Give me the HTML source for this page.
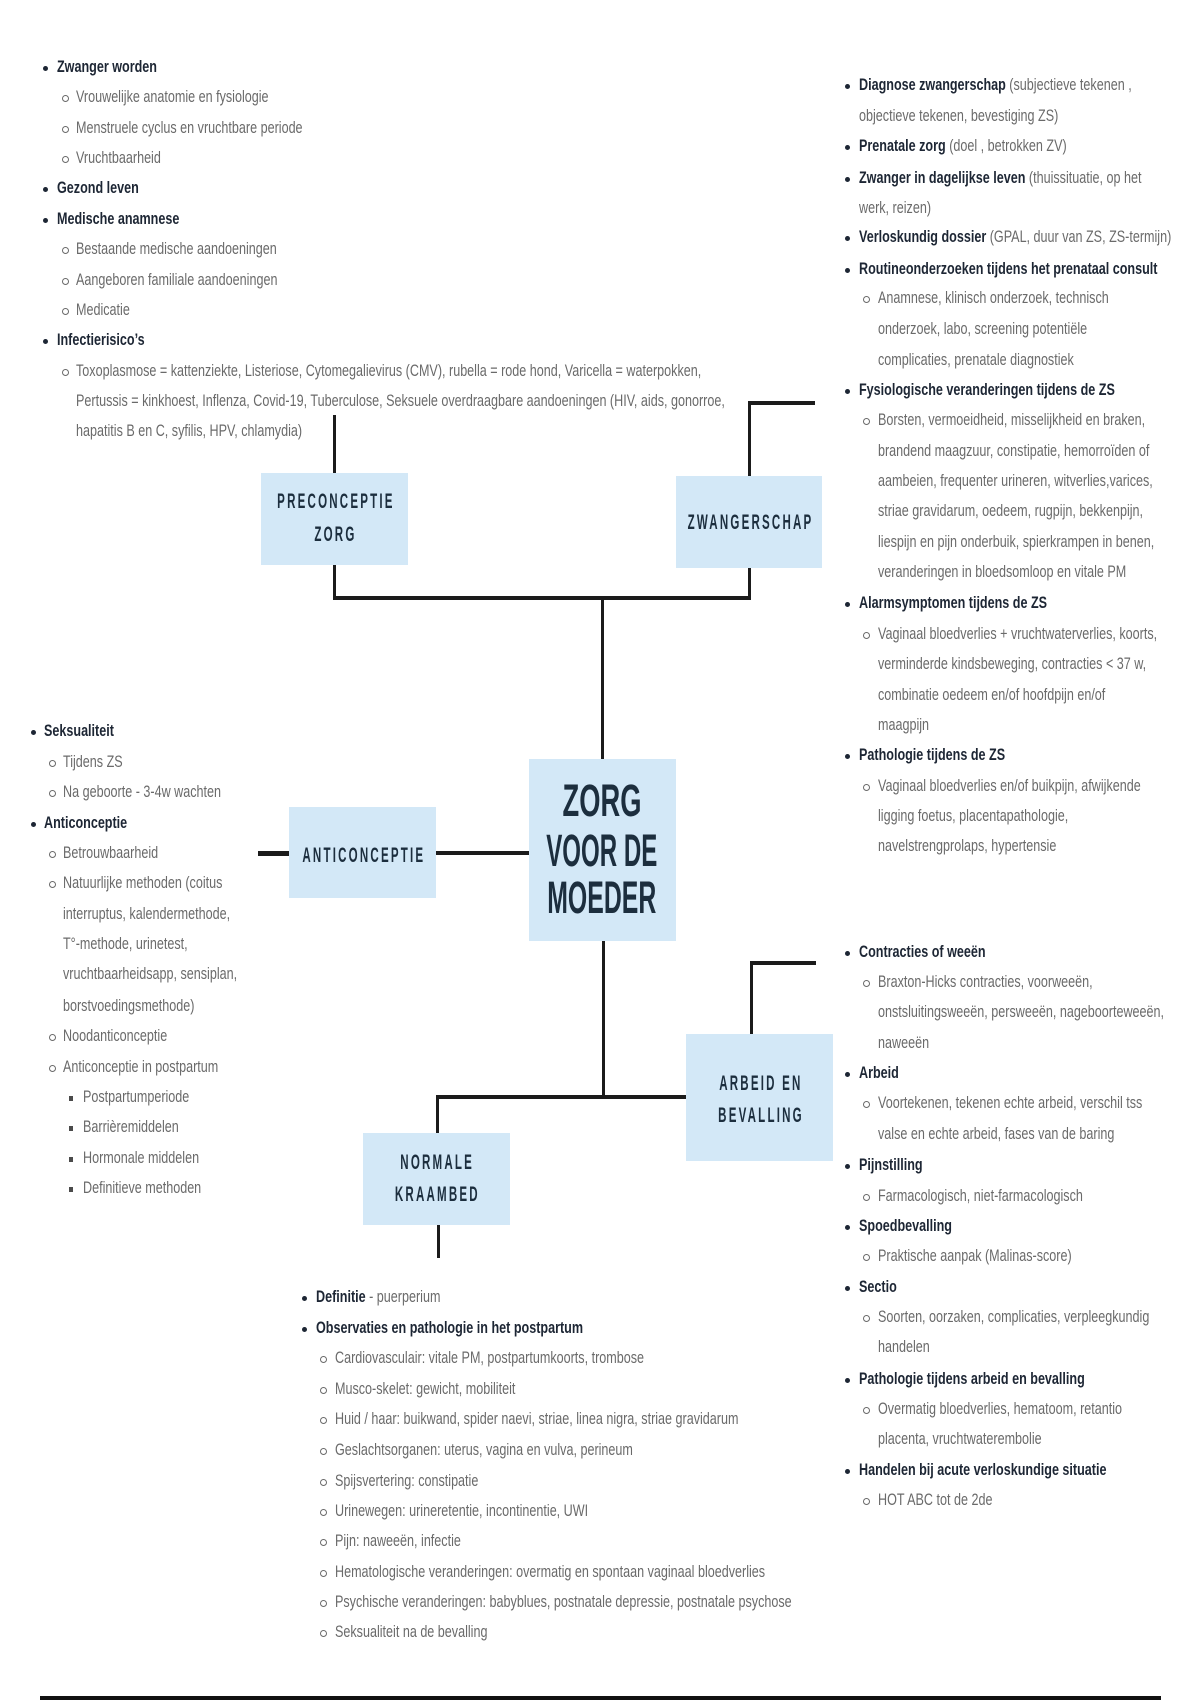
<!DOCTYPE html>
<html><head><meta charset="utf-8">
<style>
html,body{margin:0;padding:0;background:#fff;}
body{width:1200px;height:1700px;position:relative;overflow:hidden;font-family:"Liberation Sans",sans-serif;}
.l{position:absolute;white-space:nowrap;font:17px/30px "Liberation Sans",sans-serif;color:#6a6a6a;transform:scaleX(.74);transform-origin:0 0;}
.l b{color:#1d2634;font-weight:bold;}
.d1{position:absolute;width:5px;height:5px;border-radius:50%;background:#1d2634;}
.d2{position:absolute;width:7px;height:7px;border-radius:50%;border:1.6px solid #6a6a6a;box-sizing:border-box;}
.d3{position:absolute;width:4px;height:5px;background:#4a4a4a;}
.box{position:absolute;background:#d3e8f7;}
.bl{position:absolute;width:300px;text-align:center;font:bold 21px/30px "Liberation Sans",sans-serif;color:#1c2e3e;letter-spacing:4px;white-space:nowrap;}
.bl span{display:inline-block;transform:scaleX(.55);padding-left:4px;}
.ct{position:absolute;left:452px;width:300px;text-align:center;font:bold 45px/50px "Liberation Sans",sans-serif;color:#1c2e3e;white-space:nowrap;}
.ct span{display:inline-block;}
.k{position:absolute;background:#1b1b1b;}
</style></head><body>

<!-- connectors -->
<div class="k" style="left:332.5px;top:415px;width:3px;height:58px"></div>
<div class="k" style="left:332.5px;top:565px;width:3px;height:33px"></div>
<div class="k" style="left:332.5px;top:596px;width:418px;height:4px"></div>
<div class="k" style="left:747.5px;top:567px;width:3px;height:31px"></div>
<div class="k" style="left:747.5px;top:401px;width:3px;height:75px"></div>
<div class="k" style="left:747.5px;top:401px;width:67px;height:4px"></div>
<div class="k" style="left:600.5px;top:598px;width:3px;height:161px"></div>
<div class="k" style="left:258px;top:851px;width:31px;height:5px"></div>
<div class="k" style="left:436px;top:851px;width:93px;height:4px"></div>
<div class="k" style="left:601.5px;top:941px;width:3px;height:156px"></div>
<div class="k" style="left:435.5px;top:1095px;width:251px;height:4px"></div>
<div class="k" style="left:435.5px;top:1097px;width:3px;height:36px"></div>
<div class="k" style="left:436.5px;top:1225px;width:3px;height:33px"></div>
<div class="k" style="left:749.5px;top:961px;width:3px;height:73px"></div>
<div class="k" style="left:749.5px;top:961px;width:66px;height:4px"></div>
<div class="k" style="left:40px;top:1696px;width:1121px;height:4px;background:#111"></div>

<!-- boxes -->
<div class="box" style="left:261px;top:473px;width:147px;height:92px"></div>
<div class="box" style="left:676px;top:476px;width:146px;height:92px"></div>
<div class="box" style="left:529px;top:759px;width:147px;height:182px"></div>
<div class="box" style="left:289px;top:807px;width:147px;height:91px"></div>
<div class="box" style="left:686px;top:1034px;width:147px;height:127px"></div>
<div class="box" style="left:363px;top:1133px;width:147px;height:92px"></div>

<div class="bl" style="left:184.5px;top:486.5px"><span>PRECONCEPTIE</span></div>
<div class="bl" style="left:184.5px;top:519.5px"><span>ZORG</span></div>
<div class="bl" style="left:599px;top:507.5px"><span>ZWANGERSCHAP</span></div>
<div class="bl" style="left:212.5px;top:840.5px"><span>ANTICONCEPTIE</span></div>
<div class="bl" style="left:609.5px;top:1068.5px"><span>ARBEID EN</span></div>
<div class="bl" style="left:609.5px;top:1100.5px"><span>BEVALLING</span></div>
<div class="bl" style="left:286.5px;top:1147.5px"><span>NORMALE</span></div>
<div class="bl" style="left:286.5px;top:1179.5px"><span>KRAAMBED</span></div>

<div class="ct" style="top:776px"><span style="transform:scaleX(.607)">ZORG</span></div>
<div class="ct" style="top:826px"><span style="transform:scaleX(.535)">VOOR DE</span></div>
<div class="ct" style="top:873px"><span style="transform:scaleX(.552)">MOEDER</span></div>

<!-- top-left block -->
<div class="d1" style="left:42.5px;top:65.5px"></div><div class="l" style="left:57px;top:51.5px"><b>Zwanger worden</b></div>
<div class="d2" style="left:61.5px;top:95px"></div><div class="l" style="left:76px;top:82px">Vrouwelijke anatomie en fysiologie</div>
<div class="d2" style="left:61.5px;top:125.5px"></div><div class="l" style="left:76px;top:112.5px">Menstruele cyclus en vruchtbare periode</div>
<div class="d2" style="left:61.5px;top:155.5px"></div><div class="l" style="left:76px;top:142.5px">Vruchtbaarheid</div>
<div class="d1" style="left:42.5px;top:186.5px"></div><div class="l" style="left:57px;top:172.5px"><b>Gezond leven</b></div>
<div class="d1" style="left:42.5px;top:217.5px"></div><div class="l" style="left:57px;top:203.5px"><b>Medische anamnese</b></div>
<div class="d2" style="left:61.5px;top:246.5px"></div><div class="l" style="left:76px;top:233.5px">Bestaande medische aandoeningen</div>
<div class="d2" style="left:61.5px;top:277.5px"></div><div class="l" style="left:76px;top:264.5px">Aangeboren familiale aandoeningen</div>
<div class="d2" style="left:61.5px;top:307.5px"></div><div class="l" style="left:76px;top:294.5px">Medicatie</div>
<div class="d1" style="left:42.5px;top:338.5px"></div><div class="l" style="left:57px;top:324.5px"><b>Infectierisico’s</b></div>
<div class="d2" style="left:61.5px;top:368.5px"></div><div class="l" style="left:76px;top:355.5px">Toxoplasmose = kattenziekte, Listeriose, Cytomegalievirus (CMV), rubella = rode hond, Varicella = waterpokken,</div>
<div class="l" style="left:76px;top:385.5px">Pertussis = kinkhoest, Inflenza, Covid-19, Tuberculose, Seksuele overdraagbare aandoeningen (HIV, aids, gonorroe,</div>
<div class="l" style="left:76px;top:415.5px">hapatitis B en C, syfilis, HPV, chlamydia)</div>

<!-- top-right block -->
<div class="d1" style="left:844.5px;top:84px"></div><div class="l" style="left:859px;top:70px"><b>Diagnose zwangerschap</b> (subjectieve tekenen ,</div>
<div class="l" style="left:859px;top:100.5px">objectieve tekenen, bevestiging ZS)</div>
<div class="d1" style="left:844.5px;top:144.5px"></div><div class="l" style="left:859px;top:130.5px"><b>Prenatale zorg</b> (doel , betrokken ZV)</div>
<div class="d1" style="left:844.5px;top:176.5px"></div><div class="l" style="left:859px;top:162.5px"><b>Zwanger in dagelijkse leven</b> (thuissituatie, op het</div>
<div class="l" style="left:859px;top:192.5px">werk, reizen)</div>
<div class="d1" style="left:844.5px;top:236px"></div><div class="l" style="left:859px;top:222px"><b>Verloskundig dossier</b> (GPAL, duur van ZS, ZS-termijn)</div>
<div class="d1" style="left:844.5px;top:267.5px"></div><div class="l" style="left:859px;top:253.5px"><b>Routineonderzoeken tijdens het prenataal consult</b></div>
<div class="d2" style="left:862.5px;top:295.5px"></div><div class="l" style="left:878px;top:282.5px">Anamnese, klinisch onderzoek, technisch</div>
<div class="l" style="left:878px;top:314px">onderzoek, labo, screening potentiële</div>
<div class="l" style="left:878px;top:344.5px">complicaties, prenatale diagnostiek</div>
<div class="d1" style="left:844.5px;top:388.5px"></div><div class="l" style="left:859px;top:374.5px"><b>Fysiologische veranderingen tijdens de ZS</b></div>
<div class="d2" style="left:862.5px;top:418px"></div><div class="l" style="left:878px;top:405px">Borsten, vermoeidheid, misselijkheid en braken,</div>
<div class="l" style="left:878px;top:435.5px">brandend maagzuur, constipatie, hemorroïden of</div>
<div class="l" style="left:878px;top:465.5px">aambeien, frequenter urineren, witverlies,varices,</div>
<div class="l" style="left:878px;top:496px">striae gravidarum, oedeem, rugpijn, bekkenpijn,</div>
<div class="l" style="left:878px;top:526.5px">liespijn en pijn onderbuik, spierkrampen in benen,</div>
<div class="l" style="left:878px;top:556.5px">veranderingen in bloedsomloop en vitale PM</div>
<div class="d1" style="left:844.5px;top:601.5px"></div><div class="l" style="left:859px;top:587.5px"><b>Alarmsymptomen tijdens de ZS</b></div>
<div class="d2" style="left:862.5px;top:631.5px"></div><div class="l" style="left:878px;top:618.5px">Vaginaal bloedverlies + vruchtwaterverlies, koorts,</div>
<div class="l" style="left:878px;top:649px">verminderde kindsbeweging, contracties &lt; 37 w,</div>
<div class="l" style="left:878px;top:679.5px">combinatie oedeem en/of hoofdpijn en/of</div>
<div class="l" style="left:878px;top:709.5px">maagpijn</div>
<div class="d1" style="left:844.5px;top:754px"></div><div class="l" style="left:859px;top:740px"><b>Pathologie tijdens de ZS</b></div>
<div class="d2" style="left:862.5px;top:783.5px"></div><div class="l" style="left:878px;top:770.5px">Vaginaal bloedverlies en/of buikpijn, afwijkende</div>
<div class="l" style="left:878px;top:800.5px">ligging foetus, placentapathologie,</div>
<div class="l" style="left:878px;top:831px">navelstrengprolaps, hypertensie</div>

<!-- left block -->
<div class="d1" style="left:30.5px;top:730px"></div><div class="l" style="left:44px;top:716px"><b>Seksualiteit</b></div>
<div class="d2" style="left:48.5px;top:759.5px"></div><div class="l" style="left:63px;top:746.5px">Tijdens ZS</div>
<div class="d2" style="left:48.5px;top:789.5px"></div><div class="l" style="left:63px;top:776.5px">Na geboorte - 3-4w wachten</div>
<div class="d1" style="left:30.5px;top:821.5px"></div><div class="l" style="left:44px;top:807.5px"><b>Anticonceptie</b></div>
<div class="d2" style="left:48.5px;top:850.5px"></div><div class="l" style="left:63px;top:837.5px">Betrouwbaarheid</div>
<div class="d2" style="left:48.5px;top:881px"></div><div class="l" style="left:63px;top:868px">Natuurlijke methoden (coitus</div>
<div class="l" style="left:63px;top:898.5px">interruptus, kalendermethode,</div>
<div class="l" style="left:63px;top:928.5px">T°-methode, urinetest,</div>
<div class="l" style="left:63px;top:959px">vruchtbaarheidsapp, sensiplan,</div>
<div class="l" style="left:63px;top:990.5px">borstvoedingsmethode)</div>
<div class="d2" style="left:48.5px;top:1033.5px"></div><div class="l" style="left:63px;top:1020.5px">Noodanticonceptie</div>
<div class="d2" style="left:48.5px;top:1064.5px"></div><div class="l" style="left:63px;top:1051.5px">Anticonceptie in postpartum</div>
<div class="d3" style="left:69px;top:1095.5px"></div><div class="l" style="left:83px;top:1081.5px">Postpartumperiode</div>
<div class="d3" style="left:69px;top:1125.5px"></div><div class="l" style="left:83px;top:1111.5px">Barrièremiddelen</div>
<div class="d3" style="left:69px;top:1156.5px"></div><div class="l" style="left:83px;top:1142.5px">Hormonale middelen</div>
<div class="d3" style="left:69px;top:1186.5px"></div><div class="l" style="left:83px;top:1172.5px">Definitieve methoden</div>

<!-- bottom block -->
<div class="d1" style="left:301.5px;top:1296px"></div><div class="l" style="left:316px;top:1282px"><b>Definitie</b> - puerperium</div>
<div class="d1" style="left:301.5px;top:1326.5px"></div><div class="l" style="left:316px;top:1312.5px"><b>Observaties en pathologie in het postpartum</b></div>
<div class="d2" style="left:319.5px;top:1355.5px"></div><div class="l" style="left:335px;top:1342.5px">Cardiovasculair: vitale PM, postpartumkoorts, trombose</div>
<div class="d2" style="left:319.5px;top:1386.5px"></div><div class="l" style="left:335px;top:1373.5px">Musco-skelet: gewicht, mobiliteit</div>
<div class="d2" style="left:319.5px;top:1416.5px"></div><div class="l" style="left:335px;top:1403.5px">Huid / haar: buikwand, spider naevi, striae, linea nigra, striae gravidarum</div>
<div class="d2" style="left:319.5px;top:1447.5px"></div><div class="l" style="left:335px;top:1434.5px">Geslachtsorganen: uterus, vagina en vulva, perineum</div>
<div class="d2" style="left:319.5px;top:1478.5px"></div><div class="l" style="left:335px;top:1465.5px">Spijsvertering: constipatie</div>
<div class="d2" style="left:319.5px;top:1508.5px"></div><div class="l" style="left:335px;top:1495.5px">Urinewegen: urineretentie, incontinentie, UWI</div>
<div class="d2" style="left:319.5px;top:1539px"></div><div class="l" style="left:335px;top:1526px">Pijn: naweeën, infectie</div>
<div class="d2" style="left:319.5px;top:1569.5px"></div><div class="l" style="left:335px;top:1556.5px">Hematologische veranderingen: overmatig en spontaan vaginaal bloedverlies</div>
<div class="d2" style="left:319.5px;top:1599.5px"></div><div class="l" style="left:335px;top:1586.5px">Psychische veranderingen: babyblues, postnatale depressie, postnatale psychose</div>
<div class="d2" style="left:319.5px;top:1630px"></div><div class="l" style="left:335px;top:1617px">Seksualiteit na de bevalling</div>

<!-- bottom-right block -->
<div class="d1" style="left:844.5px;top:950.5px"></div><div class="l" style="left:859px;top:936.5px"><b>Contracties of weeën</b></div>
<div class="d2" style="left:862.5px;top:979.5px"></div><div class="l" style="left:878px;top:966.5px">Braxton-Hicks contracties, voorweeën,</div>
<div class="l" style="left:878px;top:997px">onstsluitingsweeën, persweeën, nageboorteweeën,</div>
<div class="l" style="left:878px;top:1027.5px">naweeën</div>
<div class="d1" style="left:844.5px;top:1071.5px"></div><div class="l" style="left:859px;top:1057.5px"><b>Arbeid</b></div>
<div class="d2" style="left:862.5px;top:1101px"></div><div class="l" style="left:878px;top:1088px">Voortekenen, tekenen echte arbeid, verschil tss</div>
<div class="l" style="left:878px;top:1118.5px">valse en echte arbeid, fases van de baring</div>
<div class="d1" style="left:844.5px;top:1163.5px"></div><div class="l" style="left:859px;top:1149.5px"><b>Pijnstilling</b></div>
<div class="d2" style="left:862.5px;top:1193.5px"></div><div class="l" style="left:878px;top:1180.5px">Farmacologisch, niet-farmacologisch</div>
<div class="d1" style="left:844.5px;top:1224.5px"></div><div class="l" style="left:859px;top:1210.5px"><b>Spoedbevalling</b></div>
<div class="d2" style="left:862.5px;top:1253.5px"></div><div class="l" style="left:878px;top:1240.5px">Praktische aanpak (Malinas-score)</div>
<div class="d1" style="left:844.5px;top:1285.5px"></div><div class="l" style="left:859px;top:1271.5px"><b>Sectio</b></div>
<div class="d2" style="left:862.5px;top:1314.5px"></div><div class="l" style="left:878px;top:1301.5px">Soorten, oorzaken, complicaties, verpleegkundig</div>
<div class="l" style="left:878px;top:1331.5px">handelen</div>
<div class="d1" style="left:844.5px;top:1377.5px"></div><div class="l" style="left:859px;top:1363.5px"><b>Pathologie tijdens arbeid en bevalling</b></div>
<div class="d2" style="left:862.5px;top:1406.5px"></div><div class="l" style="left:878px;top:1393.5px">Overmatig bloedverlies, hematoom, retantio</div>
<div class="l" style="left:878px;top:1424px">placenta, vruchtwaterembolie</div>
<div class="d1" style="left:844.5px;top:1468.5px"></div><div class="l" style="left:859px;top:1454.5px"><b>Handelen bij acute verloskundige situatie</b></div>
<div class="d2" style="left:862.5px;top:1497.5px"></div><div class="l" style="left:878px;top:1484.5px">HOT ABC tot de 2de</div>

</body></html>
